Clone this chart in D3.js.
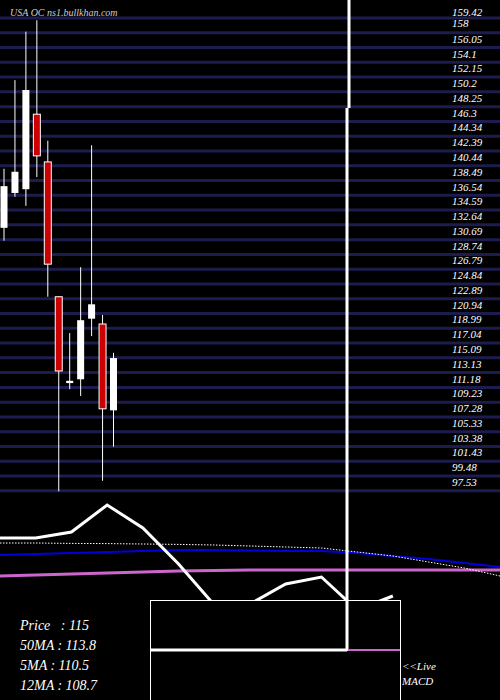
<!DOCTYPE html>
<html><head><meta charset="utf-8">
<script src="https://cdn.jsdelivr.net/npm/d3@7"></script>
<style>body{margin:0;background:#000}svg{display:block}</style>
</head><body>
<script>
const opens  = [130.3,134.9,135.4,145.3,139.0,121.2,109.8,110.3,118.3,117.6,106.2];
const closes = [135.8,137.7,148.5,139.8,125.5,111.4,110.1,118.1,120.2,106.4,113.1];
const highs  = [138.1,149.8,156.2,157.7,141.8,121.2,116.4,125.1,141.2,118.8,113.8];
const lows   = [128.6,134.4,133.2,137.0,121.2,95.5,109.0,108.1,116.0,96.9,101.4];
const tickLabels = ["158","156.05","154.1","152.15","150.2","148.25","146.3","144.34","142.39","140.44","138.49","136.54","134.59","132.64","130.69","128.74","126.79","124.84","122.89","120.94","118.99","117.04","115.09","113.13","111.18","109.23","107.28","105.33","103.38","101.43","99.48","97.53","95.58"];
const topLabel = "159.42";
const priceLine = [81,81,84,97.5,86,68,47.5,48,58,61.5,45,52];
const dottedLine = [78.5,78.5,78.3,78.2,78,77.8,77.5,77,76.5,76,74,72,69,66,62];
const blueLine = [72.5,73,73.5,74,74.5,75,75,74.8,74.5,74.5,73.5,72,70.5,68.5,66.5];
const pinkLine = [62,62.5,63,63.5,64,64.5,64.8,65,65,65,65,65,65,65,65];
const legend = ["Price   : 115","50MA : 113.8","5MA : 110.5","12MA : 108.7"];

const W=500,H=700;
const svg=d3.select("body").append("svg").attr("width",W).attr("height",H).style("background","#000");
const y=d3.scaleLinear().domain([97.53,156.05]).range([476,32.8]);
const x=d3.scaleLinear().domain([0,10]).range([4,113.5]);
const font="'Liberation Serif','DejaVu Serif',serif";
const lab=(t,yy)=>svg.append("text").attr("x",452).attr("y",yy).text(t).attr("fill","#fff")
  .attr("font-family",font).attr("font-style","italic").attr("font-size",11);

lab(topLabel,16);
lab("158",27);
tickLabels.forEach((t,i)=>{
  const v=+t;
  svg.append("line").attr("x1",0).attr("x2",W).attr("y1",y(v)).attr("y2",y(v))
    .attr("stroke","#1c1c4e").attr("stroke-width",3);
  if(i>0&&i<tickLabels.length-1) lab(t,y(v)+10);
});

svg.append("text").attr("x",10).attr("y",16).text("USA OC ns1.bullkhan.com").attr("fill","#ccc")
  .attr("font-family",font).attr("font-style","italic").attr("font-size",10);

opens.forEach((o,i)=>{
  const c=closes[i],up=c>=o,cx=x(i);
  svg.append("line").attr("x1",cx).attr("x2",cx).attr("y1",y(highs[i])).attr("y2",y(lows[i]))
    .attr("stroke","#fff").attr("stroke-width",1);
  svg.append("rect").attr("x",cx-3.5).attr("width",7).attr("y",y(Math.max(o,c)))
    .attr("height",Math.max(1.5,Math.abs(y(o)-y(c))))
    .attr("fill",up?"#fff":"#cc0000").attr("stroke","#fff").attr("stroke-width",up?0:1);
});

const xi=d3.scaleLinear().domain([0,14]).range([0,500]);
const yi=d3.scaleLinear().domain([0,100]).range([700,500]);
const ln=d3.line().x((d,i)=>xi(i)).y(d=>yi(d));
svg.append("path").datum(pinkLine).attr("d",ln).attr("fill","none").attr("stroke","#cc66cc").attr("stroke-width",3);
svg.append("path").datum(blueLine).attr("d",ln).attr("fill","none").attr("stroke","#0000dd").attr("stroke-width",2);
svg.append("path").datum(dottedLine).attr("d",ln).attr("fill","none").attr("stroke","#fff").attr("stroke-width",1).attr("stroke-dasharray","1.5,1.5");
svg.append("path").datum(priceLine).attr("d",ln).attr("fill","none").attr("stroke","#fff").attr("stroke-width",3);

svg.append("rect").attr("x",150.5).attr("y",600.5).attr("width",250).attr("height",110).attr("fill","#000").attr("stroke","#fff").attr("stroke-width",1);
svg.append("line").attr("x1",349).attr("x2",349).attr("y1",0).attr("y2",108).attr("stroke","#fff").attr("stroke-width",3);
svg.append("line").attr("x1",347).attr("x2",347).attr("y1",108).attr("y2",651).attr("stroke","#fff").attr("stroke-width",3);
svg.append("line").attr("x1",150).attr("x2",347).attr("y1",650).attr("y2",650).attr("stroke","#fff").attr("stroke-width",3);
svg.append("line").attr("x1",348).attr("x2",400).attr("y1",650).attr("y2",650).attr("stroke","#cc66cc").attr("stroke-width",2);
svg.append("text").attr("x",402).attr("y",670).text("<<Live").attr("fill","#fff").attr("font-family",font).attr("font-style","italic").attr("font-size",11);
svg.append("text").attr("x",402).attr("y",685).text("MACD").attr("fill","#fff").attr("font-family",font).attr("font-style","italic").attr("font-size",11);

legend.forEach((t,i)=>svg.append("text").attr("x",20).attr("y",630+i*20).text(t).attr("fill","#fff")
  .attr("font-family",font).attr("font-style","italic").attr("font-size",14).style("white-space","pre"));
</script>
</body></html>
